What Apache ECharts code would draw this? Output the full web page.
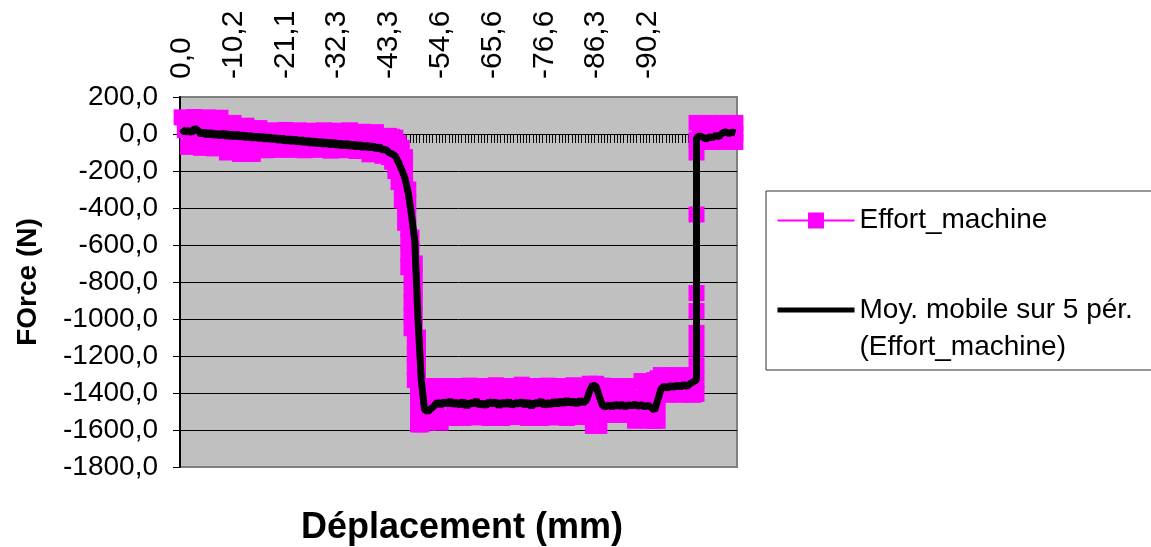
<!DOCTYPE html>
<html>
<head>
<meta charset="utf-8">
<title>Effort machine</title>
<script src="https://cdn.jsdelivr.net/npm/echarts@6/dist/echarts.min.js"></script>
<style>
  html, body { margin: 0; padding: 0; background: #fff; }
  #chart { width: 1151px; height: 547px; }
</style>
</head>
<body>
<div id="chart"></div>
<script>
// displacement labels shown on the category axis (one every 16 slots)
var tickLabels = ["0,0", "-10,2", "-21,1", "-32,3", "-43,3", "-54,6", "-65,6", "-76,6", "-86,3", "-90,2"];
var slotsPerLabel = 16;
var slotCount = 172;

// Effort_machine raw samples, one entry per slot (arrays = several samples in one slot)
var effort = [
  90, 20, -70, 0, 92, 22, -75, 0, 90, 20,
  -78, -8, 88, 18, -100, -30, 60, -10, -108, -38,
  45, -25, -108, -38, 32, -38, -88, -18, 20, -50,
  -86, -16, 22, -48, -86, -16, 20, -50, -88, -18,
  18, -52, -86, -16, 20, -50, -90, -20, 18, -52,
  -88, -18, 20, -50, -92, -22, 12, -58, -110, -40,
  10, -60, -118, -48, [-10, -80, -125],
  [-15, -70, -110, -150], [-20, -80, -140, -200], [-50, -120, -190, -260],
  [-75, -150, -220, -290, -360], [-125, -200, -270, -340, -410, -480],
  [-300, -370, -440, -510, -580, -650, -720],
  [-560, -630, -700, -770, -840, -910, -980, -1050],
  [-700, -770, -840, -910, -980, -1050, -1120, -1190, -1260, -1330],
  [-1100, -1170, -1240, -1310, -1380, -1450, -1520, -1570],
  [-1400, -1470, -1540, -1570],
  -1365, -1560, -1440, -1362, -1490, -1560, -1430, -1362, -1535, -1465,
  -1362, -1432, -1535, -1465, -1360, -1430, -1532, -1462, -1362, -1432,
  -1535, -1465, -1358, -1428, -1535, -1465, -1362, -1432, -1530, -1460,
  -1355, -1425, -1535, -1465, -1362, -1432, -1535, -1465, -1360, -1430,
  -1532, -1462, -1362, -1432, -1535, -1465, -1358, -1428, -1530, -1460,
  -1362,
  [-1432, -1350], [-1420, -1500, -1578], [-1350, -1430, -1510, -1578], [-1420, -1500, -1578],
  -1360, -1430, -1519, -1450, -1362, -1432, -1519, -1450, -1362, -1432,
  -1550, -1480, -1335, -1410, -1550, -1480,
  [-1330, -1400, -1480, -1550], [-1550, -1470, -1400, -1320],
  -1303, -1360, -1410, -1355, -1303, -1360, -1410, -1355, -1303, -1360, -1410,
  [-1405, -1330, -1250, -1160, -1075, -957, -860, -435, -100, -30, 60],
  5, -43, 10, 60, 5, -43, 10, 60, 5, -43, 10, [60, 5, -43]
];

// moving average over 5 periods
var movingAvg = [
  28, 8, 22, 5, 32, 20, -4, 14, -10, 12,
  -12, 8, -15, 10, -18, 6, -20, 4, -22, 0,
  -25, -2, -28, -6, -30, -8, -34, -10, -36, -14,
  -40, -16, -44, -20, -46, -22, -50, -26, -52, -30,
  -56, -32, -58, -36, -60, -38, -64, -40, -66, -44,
  -70, -46, -72, -50, -76, -52, -78, -56, -80, -60,
  -84, -66, -88, -82, -100, -108, -120, -155, -195, -240,
  -320, -440, -580, -1000, -1330, -1490,
  -1500, -1485, -1470, -1448, -1466, -1445, -1462, -1440, -1465, -1448,
  -1468, -1442, -1475, -1450, -1462, -1440, -1468, -1452, -1470, -1444,
  -1460, -1446, -1472, -1448, -1465, -1442, -1470, -1450, -1462, -1444,
  -1468, -1446, -1475, -1450, -1462, -1440, -1470, -1448, -1466, -1442,
  -1464, -1440, -1460, -1436, -1458, -1440, -1462, -1438, -1455, -1440,
  -1390, -1355, -1365, -1420, -1470, -1475, -1462, -1478, -1458, -1474,
  -1460, -1476, -1462, -1472, -1458, -1474, -1462, -1476, -1466, -1478,
  -1495, -1440, -1380, -1362, -1375, -1358, -1372, -1355, -1370, -1352,
  -1366, -1350, -1340,
  [-1330, -20],
  -10, -18, -28, -15, -20, -8, -14, 5, 12, 2, 10, 6
];

var avgName = "Moy. mobile sur 5 pér. (Effort_machine)";
var fontName = "Liberation Sans, Arial, sans-serif";

function toPoints(values) {
  var pts = [];
  values.forEach(function (v, i) {
    [].concat(v).forEach(function (y) {
      pts.push([i, y]);
    });
  });
  return pts;
}

var slots = [];
for (var i = 0; i < slotCount; i++) {
  slots.push(String(i));
}

var chart = echarts.init(document.getElementById("chart"));
var option = {
  animation: false,
  textStyle: { fontFamily: fontName },
  title: {
    text: "Déplacement (mm)",
    left: 296,
    top: 505,
    textStyle: { fontSize: 36, fontWeight: "bold", color: "#000", fontFamily: fontName }
  },
  legend: {
    orient: "vertical",
    left: 766,
    top: 191,
    padding: [11, 19, 4.5, 9],
    itemGap: 15.5,
    itemWidth: 77,
    itemHeight: 20,
    borderColor: "#333",
    borderWidth: 1,
    backgroundColor: "#fff",
    textStyle: { fontSize: 28, lineHeight: 37, color: "#000", fontFamily: fontName },
    data: [
      { name: "Effort_machine" },
      { name: avgName, itemStyle: { opacity: 0 }, lineStyle: { width: 5, color: "#000" } }
    ],
    formatter: function (name) {
      if (name === avgName) {
        return "\nMoy. mobile sur 5 pér.\n(Effort_machine)";
      }
      return name;
    }
  },
  grid: {
    left: 180,
    top: 97,
    width: 557,
    height: 370,
    show: true,
    backgroundColor: "#c0c0c0",
    borderColor: "#808080",
    borderWidth: 2
  },
  xAxis: [
    {
      type: "category",
      position: "top",
      data: slots,
      boundaryGap: true,
      axisLine: { show: false, onZero: false },
      axisTick: { show: false },
      splitLine: { show: false },
      axisLabel: {
        interval: slotsPerLabel - 1,
        rotate: -90,
        margin: 18,
        fontSize: 30,
        color: "#000",
        fontFamily: fontName,
        formatter: function (val, idx) {
          var k = idx / slotsPerLabel;
          return tickLabels[k] !== undefined ? tickLabels[k] : "";
        }
      }
    },
    {
      type: "category",
      position: "bottom",
      data: slots,
      boundaryGap: true,
      axisLine: { show: true, onZero: true, onZeroAxisIndex: 0, lineStyle: { color: "#000", width: 1 } },
      axisTick: { show: true, interval: 0, length: 9, lineStyle: { color: "#000", width: 1 } },
      axisLabel: { show: false },
      splitLine: { show: false }
    }
  ],
  yAxis: {
    type: "value",
    min: -1800,
    max: 200,
    interval: 200,
    name: "FOrce (N)",
    nameLocation: "middle",
    nameGap: 138,
    nameTextStyle: { fontSize: 28, fontWeight: "bold", color: "#000", fontFamily: fontName },
    axisLine: { show: true, onZero: false, lineStyle: { color: "#000", width: 2 } },
    axisTick: { show: true, length: 7, lineStyle: { color: "#000" } },
    axisLabel: {
      margin: 22,
      fontSize: 28,
      color: "#000",
      fontFamily: fontName,
      formatter: function (v) {
        return v.toFixed(1).replace(".", ",");
      }
    },
    splitLine: {
      show: true,
      showMinLine: false,
      showMaxLine: false,
      lineStyle: { color: "#000", width: 1 }
    }
  },
  series: [
    {
      name: "Effort_machine",
      type: "line",
      xAxisIndex: 0,
      data: toPoints(effort),
      symbol: "rect",
      symbolSize: 16,
      showSymbol: true,
      showAllSymbol: true,
      itemStyle: { color: "#ff00ff" },
      lineStyle: { color: "#ff00ff", width: 2 },
      z: 2
    },
    {
      name: avgName,
      type: "line",
      xAxisIndex: 0,
      data: toPoints(movingAvg),
      symbol: "none",
      itemStyle: { color: "#000" },
      lineStyle: { color: "#000", width: 7 },
      z: 3
    }
  ]
};
chart.setOption(option);
window.addEventListener("resize", function () {
  chart.resize();
});
</script>
</body>
</html>
